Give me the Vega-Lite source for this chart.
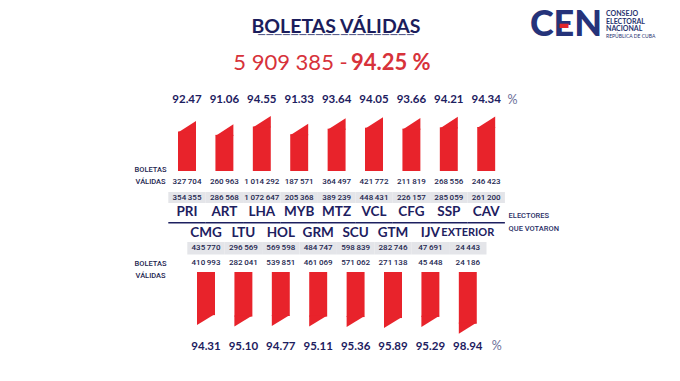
{
  "$schema": "https://vega.github.io/schema/vega-lite/v6.json",
  "padding": 0,
  "spacing": 0,
  "bounds": "flush",
  "background": "white",
  "config": {
    "view": {"stroke": null},
    "locale": {"number": {"decimal": ".", "thousands": "\u2009", "grouping": [3], "currency": ["", ""]}}
  },
  "datasets": {
    "prov": [
      {"codigo": "PRI", "grupo": "arriba", "boletas_validas": 327704, "electores": 354355, "porcentaje": 92.47},
      {"codigo": "ART", "grupo": "arriba", "boletas_validas": 260963, "electores": 286568, "porcentaje": 91.06},
      {"codigo": "LHA", "grupo": "arriba", "boletas_validas": 1014292, "electores": 1072647, "porcentaje": 94.55},
      {"codigo": "MYB", "grupo": "arriba", "boletas_validas": 187571, "electores": 205368, "porcentaje": 91.33},
      {"codigo": "MTZ", "grupo": "arriba", "boletas_validas": 364497, "electores": 389239, "porcentaje": 93.64},
      {"codigo": "VCL", "grupo": "arriba", "boletas_validas": 421772, "electores": 448431, "porcentaje": 94.05},
      {"codigo": "CFG", "grupo": "arriba", "boletas_validas": 211819, "electores": 226157, "porcentaje": 93.66},
      {"codigo": "SSP", "grupo": "arriba", "boletas_validas": 268556, "electores": 285059, "porcentaje": 94.21},
      {"codigo": "CAV", "grupo": "arriba", "boletas_validas": 246423, "electores": 261200, "porcentaje": 94.34},
      {"codigo": "CMG", "grupo": "abajo", "boletas_validas": 410993, "electores": 435770, "porcentaje": 94.31},
      {"codigo": "LTU", "grupo": "abajo", "boletas_validas": 282041, "electores": 296569, "porcentaje": 95.10},
      {"codigo": "HOL", "grupo": "abajo", "boletas_validas": 539851, "electores": 569598, "porcentaje": 94.77},
      {"codigo": "GRM", "grupo": "abajo", "boletas_validas": 461069, "electores": 484747, "porcentaje": 95.11},
      {"codigo": "SCU", "grupo": "abajo", "boletas_validas": 571062, "electores": 598839, "porcentaje": 95.36},
      {"codigo": "GTM", "grupo": "abajo", "boletas_validas": 271138, "electores": 282746, "porcentaje": 95.89},
      {"codigo": "IJV", "grupo": "abajo", "boletas_validas": 45448, "electores": 47691, "porcentaje": 95.29},
      {"codigo": "EXTERIOR", "grupo": "abajo", "boletas_validas": 24186, "electores": 24443, "porcentaje": 98.94}
    ]
  },
  "vconcat": [
    {
      "width": 680, "height": 90,
      "data": {"values": [{}]},
      "layer": [
        {"mark": {"type": "text", "text": "BOLETAS VÁLIDAS", "font": "Lato", "fontWeight": "bold", "fontSize": 19.5, "color": "#1b1d5c", "dx": -4, "dy": -18}},
        {"mark": {"type": "text", "text": "___________________", "font": "Lato", "fontSize": 18, "color": "#5b5f8c", "baseline": "alphabetic", "dx": -4, "dy": -12}},
        {"mark": {"type": "text", "text": "5 909 385 -", "font": "Lato", "fontSize": 22, "color": "#d7323a", "align": "right", "dx": 7.7, "dy": 18}},
        {"mark": {"type": "text", "text": "94.25 %", "font": "Lato", "fontWeight": "bold", "fontSize": 22, "color": "#d7323a", "align": "left", "dx": 11, "dy": 18}},
        {"mark": {"type": "text", "text": "CEN", "font": "Lato", "fontWeight": 900, "fontSize": 36, "color": "#25337a", "dx": 226, "dy": -20}},
        {"mark": {"type": "text", "text": "▬", "font": "DejaVu Sans", "fontSize": 12, "color": "#e0262c", "dx": 224, "dy": -20}},
        {"mark": {"type": "text", "text": "CONSEJO", "font": "Lato", "fontWeight": "bold", "fontSize": 7, "color": "#27336f", "align": "left", "dx": 266, "dy": -31}},
        {"mark": {"type": "text", "text": "ELECTORAL", "font": "Lato", "fontWeight": "bold", "fontSize": 7, "color": "#27336f", "align": "left", "dx": 266, "dy": -23.3}},
        {"mark": {"type": "text", "text": "NACIONAL", "font": "Lato", "fontWeight": "bold", "fontSize": 7, "color": "#27336f", "align": "left", "dx": 266, "dy": -15.6}},
        {"mark": {"type": "text", "text": "REPÚBLICA DE CUBA", "font": "Lato", "fontSize": 5, "color": "#27336f", "align": "left", "dx": 266, "dy": -8.8}}
      ]
    },
    {
      "width": 680, "height": 20,
      "layer": [
        {
          "data": {"name": "prov"},
          "transform": [{"filter": "datum.grupo === 'arriba'"}],
          "mark": {"type": "text", "font": "Lato", "fontWeight": "bold", "fontSize": 11.5, "color": "#1d2060"},
          "encoding": {
            "x": {"field": "codigo", "type": "nominal", "axis": null, "scale": {"domain": ["BOLETAS VÁLIDAS", "PRI", "ART", "LHA", "MYB", "MTZ", "VCL", "CFG", "SSP", "CAV", "%"], "range": [130.9, 542.3], "paddingInner": 0.52, "paddingOuter": 0.26}},
            "text": {"field": "porcentaje", "type": "quantitative", "format": ".2f"}
          }
        },
        {
          "data": {"values": [{}]},
          "mark": {"type": "text", "text": "%", "font": "Lato", "fontSize": 12.5, "color": "#6a6e99", "dx": -11},
          "encoding": {"x": {"datum": "%", "type": "nominal", "axis": null}}
        }
      ]
    },
    {
      "width": 680, "height": 61,
      "data": {"name": "prov"},
      "transform": [{"filter": "datum.grupo === 'arriba'"}],
      "encoding": {
        "x": {"field": "codigo", "type": "nominal", "axis": null, "scale": {"domain": ["BOLETAS VÁLIDAS", "PRI", "ART", "LHA", "MYB", "MTZ", "VCL", "CFG", "SSP", "CAV", "%"], "range": [130.9, 542.3], "paddingInner": 0.52, "paddingOuter": 0.26}},
        "y": {"field": "porcentaje", "type": "quantitative", "axis": null, "scale": {"domain": [76, 101.42], "zero": false, "nice": false}}
      },
      "layer": [
        {"mark": {"type": "bar", "color": "#e8232b"}, "encoding": {"y2": {"datum": 76}}},
        {"mark": {"type": "point", "shape": "M -1 0.12 L 1 0.12 L 1 -1.17 Z", "size": 324, "filled": true, "opacity": 1, "color": "#e8232b"}}
      ]
    },
    {
      "width": 680, "height": 21,
      "layer": [
        {
          "data": {"name": "prov"},
          "transform": [{"filter": "datum.grupo === 'arriba'"}],
          "mark": {"type": "text", "font": "Roboto", "fontWeight": 500, "fontSize": 8, "color": "#23264f"},
          "encoding": {
            "x": {"field": "codigo", "type": "nominal", "axis": null, "scale": {"domain": ["BOLETAS VÁLIDAS", "PRI", "ART", "LHA", "MYB", "MTZ", "VCL", "CFG", "SSP", "CAV", "%"], "range": [130.9, 542.3], "paddingInner": 0.52, "paddingOuter": 0.26}},
            "text": {"field": "boletas_validas", "type": "quantitative", "format": ",d"}
          }
        },
        {
          "data": {"values": [{}]},
          "mark": {"type": "text", "text": "BOLETAS", "font": "Roboto", "fontWeight": 500, "fontSize": 7.5, "color": "#23264f", "dx": 1, "dy": -11.5},
          "encoding": {"x": {"datum": "BOLETAS VÁLIDAS", "type": "nominal", "axis": null}}
        },
        {
          "data": {"values": [{}]},
          "mark": {"type": "text", "text": "VÁLIDAS", "font": "Roboto", "fontWeight": 500, "fontSize": 7.5, "color": "#23264f", "dx": 1, "dy": 0.5},
          "encoding": {"x": {"datum": "BOLETAS VÁLIDAS", "type": "nominal", "axis": null}}
        }
      ]
    },
    {
      "width": 680, "height": 11,
      "data": {"name": "prov"},
      "transform": [{"filter": "datum.grupo === 'arriba'"}],
      "encoding": {
        "x": {"field": "codigo", "type": "nominal", "axis": null, "scale": {"domain": ["BOLETAS VÁLIDAS", "PRI", "ART", "LHA", "MYB", "MTZ", "VCL", "CFG", "SSP", "CAV", "%"], "range": [130.9, 542.3], "paddingInner": 0, "paddingOuter": 0}}
      },
      "layer": [
        {"mark": {"type": "bar", "color": "#e4e5e9"}},
        {"mark": {"type": "text", "font": "Roboto", "fontWeight": 500, "fontSize": 8, "color": "#23264f"},
         "encoding": {"text": {"field": "electores", "type": "quantitative", "format": ",d"}}}
      ]
    },
    {
      "width": 680, "height": 18.5,
      "data": {"name": "prov"},
      "transform": [{"filter": "datum.grupo === 'arriba'"}],
      "mark": {"type": "text", "font": "Lato", "fontWeight": "bold", "fontSize": 13.5, "color": "#1d2060"},
      "encoding": {
        "x": {"field": "codigo", "type": "nominal", "axis": null, "scale": {"domain": ["BOLETAS VÁLIDAS", "PRI", "ART", "LHA", "MYB", "MTZ", "VCL", "CFG", "SSP", "CAV", "%"], "range": [130.9, 542.3], "paddingInner": 0.52, "paddingOuter": 0.26}},
        "text": {"field": "codigo", "type": "nominal"}
      }
    },
    {
      "width": 680, "height": 1.5,
      "layer": [
        {
          "data": {"name": "prov"},
          "transform": [{"filter": "datum.grupo === 'arriba'"}],
          "mark": {"type": "bar", "color": "#1d2060"},
          "encoding": {
            "x": {"field": "codigo", "type": "nominal", "axis": null, "scale": {"domain": ["BOLETAS VÁLIDAS", "PRI", "ART", "LHA", "MYB", "MTZ", "VCL", "CFG", "SSP", "CAV", "%"], "range": [130.9, 542.3], "paddingInner": 0, "paddingOuter": 0}}
          }
        },
        {
          "data": {"values": [{}]},
          "mark": {"type": "text", "text": "ELECTORES", "align": "left", "font": "Roboto", "fontWeight": 500, "fontSize": 7.5, "color": "#2b2f66", "dx": -15, "dy": -7.25},
          "encoding": {"x": {"datum": "%", "type": "nominal", "axis": null}}
        },
        {
          "data": {"values": [{}]},
          "mark": {"type": "text", "text": "QUE VOTARON", "align": "left", "font": "Roboto", "fontWeight": 500, "fontSize": 7.5, "color": "#2b2f66", "dx": -15, "dy": 5.75},
          "encoding": {"x": {"datum": "%", "type": "nominal", "axis": null}}
        }
      ]
    },
    {
      "width": 680, "height": 18,
      "data": {"name": "prov"},
      "transform": [{"filter": "datum.grupo === 'abajo'"}],
      "mark": {"type": "text", "font": "Lato", "fontWeight": "bold", "color": "#1d2060"},
      "encoding": {
        "x": {"field": "codigo", "type": "nominal", "axis": null, "scale": {"domain": ["BOLETAS VÁLIDAS", "CMG", "LTU", "HOL", "GRM", "SCU", "GTM", "IJV", "EXTERIOR", "%"], "range": [149.9, 523.9], "paddingInner": 0.52, "paddingOuter": 0.26}},
        "text": {"field": "codigo", "type": "nominal"},
        "size": {"condition": {"test": "datum.codigo === 'EXTERIOR'", "value": 11}, "value": 13.5}
      }
    },
    {
      "width": 680, "height": 12.5,
      "data": {"name": "prov"},
      "transform": [{"filter": "datum.grupo === 'abajo'"}],
      "encoding": {
        "x": {"field": "codigo", "type": "nominal", "axis": null, "scale": {"domain": ["BOLETAS VÁLIDAS", "CMG", "LTU", "HOL", "GRM", "SCU", "GTM", "IJV", "EXTERIOR", "%"], "range": [149.9, 523.9], "paddingInner": 0, "paddingOuter": 0}}
      },
      "layer": [
        {"mark": {"type": "bar", "color": "#e4e5e9"}},
        {"mark": {"type": "text", "font": "Roboto", "fontWeight": 500, "fontSize": 8, "color": "#23264f"},
         "encoding": {"text": {"field": "electores", "type": "quantitative", "format": ",d"}}}
      ]
    },
    {
      "width": 680, "height": 16.5,
      "layer": [
        {
          "data": {"name": "prov"},
          "transform": [{"filter": "datum.grupo === 'abajo'"}],
          "mark": {"type": "text", "font": "Roboto", "fontWeight": 500, "fontSize": 8, "color": "#23264f"},
          "encoding": {
            "x": {"field": "codigo", "type": "nominal", "axis": null, "scale": {"domain": ["BOLETAS VÁLIDAS", "CMG", "LTU", "HOL", "GRM", "SCU", "GTM", "IJV", "EXTERIOR", "%"], "range": [149.9, 523.9], "paddingInner": 0.52, "paddingOuter": 0.26}},
            "text": {"field": "boletas_validas", "type": "quantitative", "format": ",d"}
          }
        },
        {
          "data": {"values": [{}]},
          "mark": {"type": "text", "text": "BOLETAS", "font": "Roboto", "fontWeight": 500, "fontSize": 7.5, "color": "#23264f", "dx": -18, "dy": 0.25},
          "encoding": {"x": {"datum": "BOLETAS VÁLIDAS", "type": "nominal", "axis": null}}
        },
        {
          "data": {"values": [{}]},
          "mark": {"type": "text", "text": "VÁLIDAS", "font": "Roboto", "fontWeight": 500, "fontSize": 7.5, "color": "#23264f", "dx": -18, "dy": 12.25},
          "encoding": {"x": {"datum": "BOLETAS VÁLIDAS", "type": "nominal", "axis": null}}
        }
      ]
    },
    {
      "width": 680, "height": 54,
      "data": {"name": "prov"},
      "transform": [{"filter": "datum.grupo === 'abajo'"}],
      "encoding": {
        "x": {"field": "codigo", "type": "nominal", "axis": null, "scale": {"domain": ["BOLETAS VÁLIDAS", "CMG", "LTU", "HOL", "GRM", "SCU", "GTM", "IJV", "EXTERIOR", "%"], "range": [149.9, 523.9], "paddingInner": 0.52, "paddingOuter": 0.26}},
        "y": {"field": "porcentaje", "type": "quantitative", "axis": null, "scale": {"domain": [71, 100.19], "zero": false, "nice": false, "reverse": true}}
      },
      "layer": [
        {"mark": {"type": "bar", "color": "#e8232b"}, "encoding": {"y2": {"datum": 71}}},
        {"mark": {"type": "point", "shape": "M -1 -0.12 L 1 -0.12 L -1 1.11 Z", "size": 324, "filled": true, "opacity": 1, "color": "#e8232b"}}
      ]
    },
    {
      "width": 680, "height": 41,
      "layer": [
        {
          "data": {"name": "prov"},
          "transform": [{"filter": "datum.grupo === 'abajo'"}],
          "mark": {"type": "text", "font": "Lato", "fontWeight": "bold", "fontSize": 11.5, "color": "#1d2060"},
          "encoding": {
            "x": {"field": "codigo", "type": "nominal", "axis": null, "scale": {"domain": ["BOLETAS VÁLIDAS", "CMG", "LTU", "HOL", "GRM", "SCU", "GTM", "IJV", "EXTERIOR", "%"], "range": [149.9, 523.9], "paddingInner": 0.52, "paddingOuter": 0.26}},
            "text": {"field": "porcentaje", "type": "quantitative", "format": ".2f"}
          }
        },
        {
          "data": {"values": [{}]},
          "mark": {"type": "text", "text": "%", "font": "Lato", "fontSize": 12.5, "color": "#6a6e99", "dx": -8.5, "dy": -1},
          "encoding": {"x": {"datum": "%", "type": "nominal", "axis": null}}
        }
      ]
    }
  ]
}
